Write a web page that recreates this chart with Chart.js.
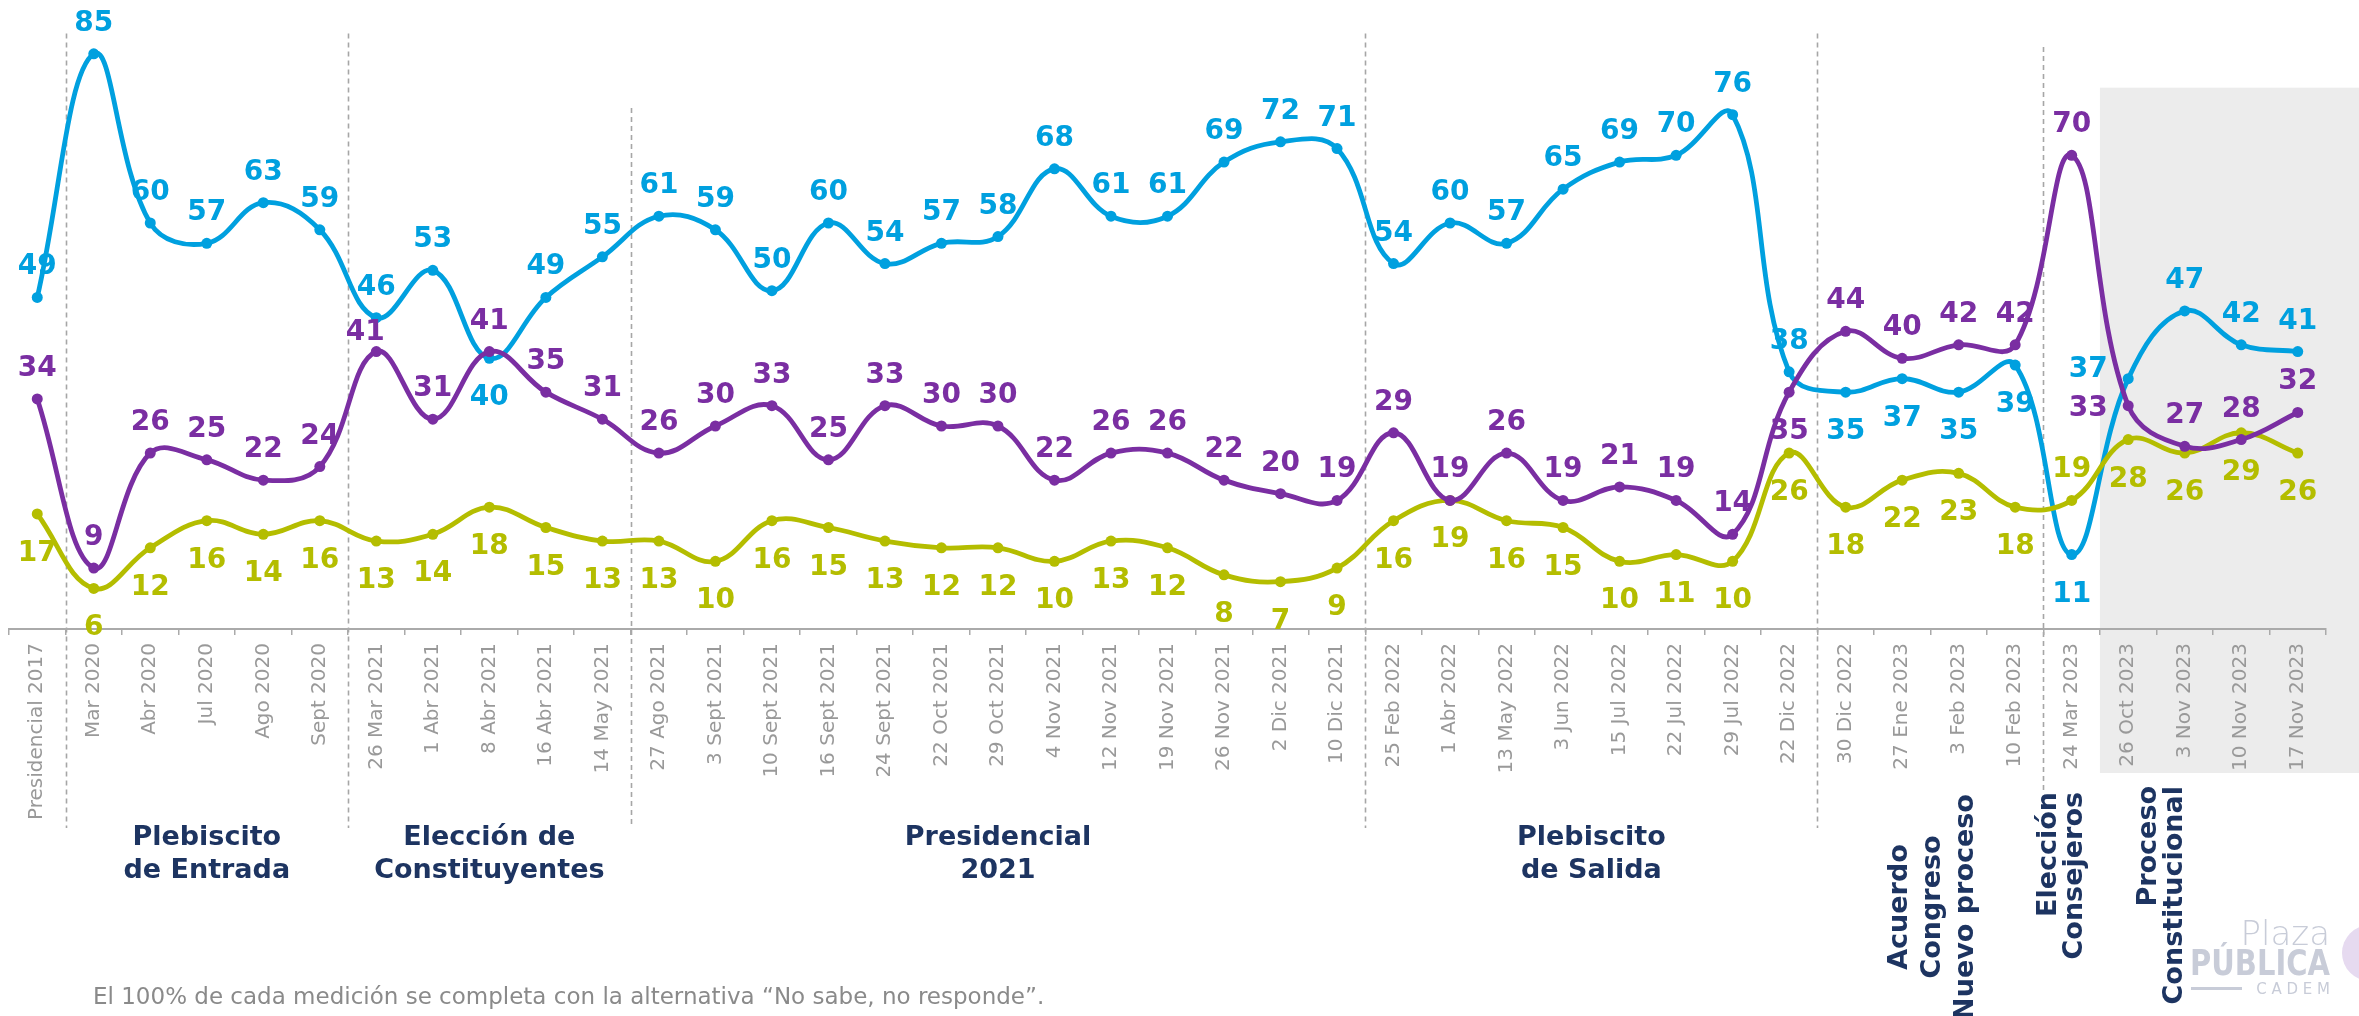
<!DOCTYPE html>
<html><head><meta charset="utf-8">
<script src="https://cdn.jsdelivr.net/npm/chart.js@4.4.1/dist/chart.umd.min.js"></script>
<style>html,body{margin:0;padding:0;background:#fff;overflow:hidden}canvas{display:block}</style>
</head><body>
<canvas id="c" width="2359" height="1016" style="width:2359px;height:1016px"></canvas>
<script>
// ---------- data ----------
const categories = ['Presidencial 2017','Mar 2020','Abr 2020','Jul 2020','Ago 2020','Sept 2020',
  '26 Mar 2021','1 Abr 2021','8 Abr 2021','16 Abr 2021','14 May 2021',
  '27 Ago 2021','3 Sept 2021','10 Sept 2021','16 Sept 2021','24 Sept 2021','22 Oct 2021','29 Oct 2021',
  '4 Nov 2021','12 Nov 2021','19 Nov 2021','26 Nov 2021','2 Dic 2021','10 Dic 2021',
  '25 Feb 2022','1 Abr 2022','13 May 2022','3 Jun 2022','15 Jul 2022','22 Jul 2022','29 Jul 2022',
  '22 Dic 2022','30 Dic 2022','27 Ene 2023','3 Feb 2023','10 Feb 2023','24 Mar 2023',
  '26 Oct 2023','3 Nov 2023','10 Nov 2023','17 Nov 2023'];
const blueValues   = [49,85,60,57,63,59,46,53,40,49,55,61,59,50,60,54,57,58,68,61,61,69,72,71,54,60,57,65,69,70,76,38,35,37,35,39,11,37,47,42,41];
const purpleValues = [34,9,26,25,22,24,41,31,41,35,31,26,30,33,25,33,30,30,22,26,26,22,20,19,29,19,26,19,21,19,14,35,44,40,42,42,70,33,27,28,32];
const greenValues  = [17,6,12,16,14,16,13,14,18,15,13,13,10,16,15,13,12,12,10,13,12,8,7,9,16,19,16,15,10,11,10,26,18,22,23,18,19,28,26,29,26];
const seriesNames  = ['Serie azul','Serie morada','Serie verde'];
const groupTitles  = [['Plebiscito','de Entrada'],['Elección de','Constituyentes'],['Presidencial','2021'],['Plebiscito','de Salida'],
  ['Acuerdo','Congreso','Nuevo proceso'],['Elección','Consejeros'],['Proceso','Constitucional']];
const footnote = 'El 100% de cada medición se completa con la alternativa “No sabe, no responde”.';

// ---------- styles / layout ----------
const BLUE = '#00A0DF', PURPLE = '#7A2EA2', GREEN = '#B4BD00', NAVY = '#1D3461';
const LABEL_FONT = 'bold 28px "DejaVu Sans"';
const labelSide = [
  {def:'above', except:{8:'below',32:'below',33:'below',34:'below',35:'below',36:'below',37:'leftUp'}},
  {def:'above', except:{6:'aboveNear',31:'below',37:'left'}},
  {def:'below', except:{36:'above'}}
];
const dividers = [{at:0.5,top:88},{at:5.5,top:88},{at:10.5,top:77},{at:23.5,top:88},{at:31.5,top:88},{at:35.5,top:86,bottom:790}];
const groupLayout = [
  {center:3, rotated:false},
  {center:8, rotated:false},
  {center:17, rotated:false},
  {center:27.5, rotated:false},
  {center:33.55, rotated:true, align:'center', y:907, gap:33},
  {center:35.83, rotated:true, align:'right', y:792, gap:26},
  {center:37.6, rotated:true, align:'right', y:786, gap:26}
];

const decor = {
  id:'decor',
  beforeDraw(chart){
    const {ctx, scales:{x,y}} = chart;
    ctx.save();
    const bx = x.getPixelForValue(36.5);
    const by = y.getPixelForValue(80);
    ctx.fillStyle = '#ECECEC';
    ctx.fillRect(bx, by, chart.width - bx, 773 - by);
    ctx.strokeStyle = '#A6A6A6';
    ctx.lineWidth = 1.6;
    ctx.setLineDash([5,4]);
    dividers.forEach(d => {
      const px = Math.round(x.getPixelForValue(d.at)) + 0.5;
      ctx.beginPath();
      ctx.moveTo(px, y.getPixelForValue(d.top));
      ctx.lineTo(px, d.bottom || 828);
      ctx.stroke();
    });
    ctx.restore();
  },
  afterDraw(chart){
    const {ctx, scales:{x}} = chart;
    ctx.save();
    ctx.fillStyle = NAVY;
    ctx.font = 'bold 27px "DejaVu Sans"';
    groupTitles.forEach((lines, i) => {
      const g = groupLayout[i];
      const cx = x.getPixelForValue(g.center);
      if (!g.rotated) {
        ctx.textAlign = 'center';
        ctx.textBaseline = 'alphabetic';
        lines.forEach((t, k) => ctx.fillText(t, cx, 845 + k*33));
      } else {
        const n = lines.length;
        lines.forEach((t, k) => {
          const colX = cx + (k - (n-1)/2) * g.gap;
          ctx.save();
          ctx.translate(colX, g.y);
          ctx.rotate(-Math.PI/2);
          ctx.textAlign = g.align;
          ctx.textBaseline = 'middle';
          ctx.fillText(t, 0, 0);
          ctx.restore();
        });
      }
    });
    ctx.fillStyle = '#8A8A8A';
    ctx.font = '23px "DejaVu Sans"';
    ctx.textAlign = 'left';
    ctx.textBaseline = 'middle';
    ctx.fillText(footnote, 93, 998, 963);
    ctx.fillStyle = '#E6DAF0';
    ctx.beginPath(); ctx.arc(2370, 953, 28, 0, Math.PI*2); ctx.fill();
    ctx.fillStyle = '#C8CCD8';
    ctx.textAlign = 'right';
    ctx.textBaseline = 'alphabetic';
    ctx.font = '300 34px "DejaVu Sans"';
    ctx.fillText('Plaza', 2330, 945, 94);
    ctx.font = 'bold 36px "DejaVu Sans"';
    ctx.fillText('PÚBLICA', 2330, 975, 140);
    ctx.font = '15px "DejaVu Sans"';
    ctx.fillText('C A D E M', 2330, 994, 78);
    ctx.fillRect(2191, 987, 51, 3);
    ctx.restore();
  }
};

const valueLabels = {
  id:'valueLabels',
  afterDatasetsDraw(chart){
    const {ctx} = chart;
    ctx.save();
    ctx.font = LABEL_FONT;
    chart.data.datasets.forEach((ds, i) => {
      const meta = chart.getDatasetMeta(i);
      ctx.fillStyle = ds.borderColor;
      meta.data.forEach((pt, j) => {
        const side = labelSide[i].except[j] || labelSide[i].def;
        const v = String(ds.data[j]);
        let tx = pt.x, ty;
        ctx.textAlign = 'center';
        ctx.textBaseline = 'alphabetic';
        if (side === 'above') ty = pt.y - 23;
        else if (side === 'aboveNear') { tx = pt.x - 11; ty = pt.y - 12; }
        else if (side === 'below') ty = pt.y + 47;
        else if (side === 'left') { tx = pt.x - 40; ty = pt.y + 10; }
        else if (side === 'leftUp') { tx = pt.x - 40; ty = pt.y - 2; }
        ctx.fillText(v, tx, ty);
      });
    });
    ctx.restore();
  }
};

function series(name, values, color, order){
  return {label:name, data:values, borderColor:color, backgroundColor:color,
    pointBackgroundColor:color, pointBorderColor:color, pointRadius:5.5, pointBorderWidth:0,
    borderWidth:4.8, tension:0.4, fill:false, order:order};
}

new Chart(document.getElementById('c'), {
  type:'line',
  data:{labels:categories, datasets:[
    series(seriesNames[0], blueValues, BLUE, 2),
    series(seriesNames[1], purpleValues, PURPLE, 0),
    series(seriesNames[2], greenValues, GREEN, 1)
  ]},
  options:{
    responsive:false, animation:false, devicePixelRatio:1,
    layout:{padding:{top:20,left:9,right:33,bottom:0}},
    plugins:{legend:{display:false}, tooltip:{enabled:false}},
    scales:{
      x:{offset:true,
        grid:{display:true, drawOnChartArea:false, drawTicks:true, tickLength:6, color:'#AAAAAA', lineWidth:1.5, offset:true},
        border:{display:true, color:'#AAAAAA', width:2},
        ticks:{autoSkip:false, minRotation:90, maxRotation:90, padding:8, color:'#999999',
          font:{family:'DejaVu Sans', size:20, weight:'normal'}},
        afterFit(s){ s.height = 387; }
      },
      y:{display:false, min:0, max:90}
    }
  },
  plugins:[decor, valueLabels]
});
</script>
</body></html>
